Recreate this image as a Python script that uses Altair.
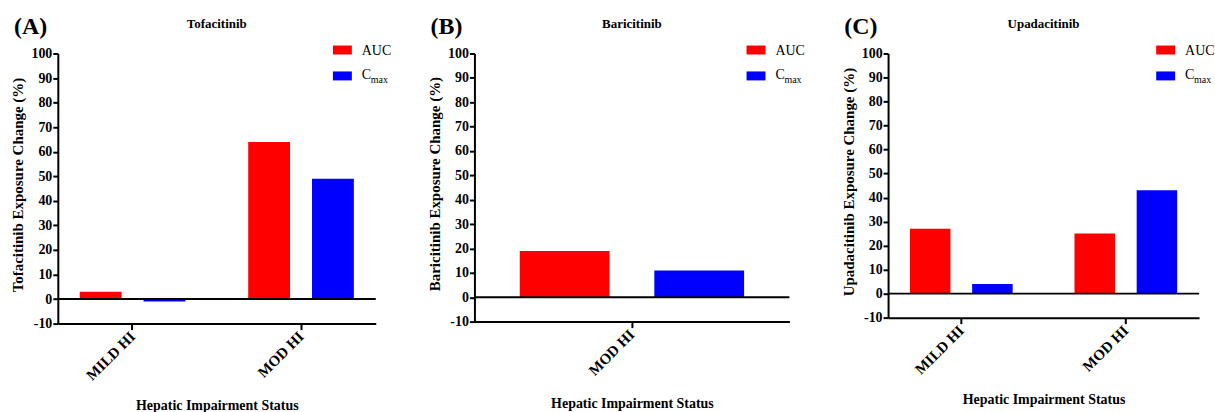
import altair as alt
import pandas as pd

# Series shown in every panel
series = ["AUC", "Cmax"]
series_colors = ["#ff0000", "#0000ff"]

# Tofacitinib
tofa_status = ["MILD HI", "MILD HI", "MOD HI", "MOD HI"]
tofa_param = ["AUC", "Cmax", "AUC", "Cmax"]
tofa_change = [3, -1, 64, 49]

# Baricitinib
bari_status = ["MOD HI", "MOD HI"]
bari_param = ["AUC", "Cmax"]
bari_change = [19, 11]

# Upadacitinib
upa_status = ["MILD HI", "MILD HI", "MOD HI", "MOD HI"]
upa_param = ["AUC", "Cmax", "AUC", "Cmax"]
upa_change = [27, 4, 25, 43]

y_ticks = list(range(-10, 101, 10))

SERIF = "Liberation Serif"


def text_layer(txt, x, y, size, weight="bold", align="left", baseline="middle"):
    return alt.Chart(pd.DataFrame({"t": [txt]})).mark_text(
        font=SERIF, fontSize=size, fontWeight=weight, align=align,
        baseline=baseline, color="black",
    ).encode(text="t:N", x=alt.value(x), y=alt.value(y))


def legend_layers(w):
    layers = []
    for i, (name, col) in enumerate(zip(series, series_colors)):
        dy = i * 26
        layers.append(
            alt.Chart(pd.DataFrame({"k": [name]})).mark_rect(color=col).encode(
                x=alt.value(w - 43), x2=alt.value(w - 24),
                y=alt.value(-8 + dy), y2=alt.value(1 + dy),
            )
        )
    layers.append(text_layer("AUC", w - 14, -3, 14, weight="normal"))
    layers.append(text_layer("C", w - 14, 22, 14, weight="normal"))
    layers.append(text_layer("max", w - 5, 27, 10, weight="normal"))
    return layers


def panel(letter, drug, status, param, change, w, h, pad_in, pad_out, off_pad):
    df = pd.DataFrame({"status": status, "param": param, "change": change})
    cats = list(dict.fromkeys(status))
    y_scale = alt.Scale(domain=[-10, 100], nice=False, zero=False)
    y_axis = alt.Axis(
        title=f"{drug} Exposure Change (%)", values=y_ticks,
        labelExpr="'' + datum.value",
        labelOverlap=False, labelFontSize=14,
        tickSize=5, labelPadding=1,
        titleFontSize=15, titleX=-40, titleY=h / 2 - 4,
        titleBaseline="middle",
    )

    bars = alt.Chart(df).mark_bar().encode(
        x=alt.X(
            "status:N", sort=cats,
            scale=alt.Scale(paddingInner=pad_in, paddingOuter=pad_out),
            axis=alt.Axis(
                title="Hepatic Impairment Status", labelAngle=-45,
                labelAlign="right", labelBaseline="middle",
                labelFontSize=15, tickSize=6, labelPadding=4,
                titleFontSize=14, titleY=75, titleBaseline="top",
            ),
        ),
        xOffset=alt.XOffset(
            "param:N", sort=series,
            scale=alt.Scale(paddingInner=off_pad, paddingOuter=0),
        ),
        y=alt.Y("change:Q", scale=y_scale, axis=y_axis),
        color=alt.Color(
            "param:N", scale=alt.Scale(domain=series, range=series_colors),
            legend=None,
        ),
    )

    # zero reference line across the plot
    zero = alt.Chart(pd.DataFrame({"change": [0]})).mark_rule(
        color="black", strokeWidth=2
    ).encode(y=alt.Y("change:Q", scale=y_scale, axis=y_axis))

    layers = [bars, zero]
    layers.append(text_layer(f"({letter})", -44, -27, 24))
    layers.append(text_layer(drug, w / 2, -30, 13, align="center"))
    layers += legend_layers(w)

    return alt.layer(*layers).properties(width=w, height=h)


pa = panel("A", "Tofacitinib", tofa_status, tofa_param, tofa_change,
           319, 271, 0.373, 0.13, 0.344)
pb = panel("B", "Baricitinib", bari_status, bari_param, bari_change,
           316, 269, 0.0, 0.202, 0.333)
pc = panel("C", "Upadacitinib", upa_status, upa_param, upa_change,
           312, 265, 0.376, 0.133, 0.349)

chart = alt.hconcat(pa, pb, pc, spacing=99, bounds="flush").resolve_scale(
    x="independent", xOffset="independent", y="independent",
    color="independent",
).properties(
    padding={"left": 10, "top": 14, "right": 0, "bottom": 0},
    background="white",
).configure_view(stroke=None).configure_axis(
    labelFont=SERIF, labelFontWeight="bold", labelColor="black",
    titleFont=SERIF, titleFontWeight="bold", titleColor="black",
    domainColor="black", domainWidth=2, tickColor="black", tickWidth=2,
    grid=False,
).configure_axisY(labelOverlap=False)

chart.save("out.html", embed_options={"renderer": "svg", "actions": False})
